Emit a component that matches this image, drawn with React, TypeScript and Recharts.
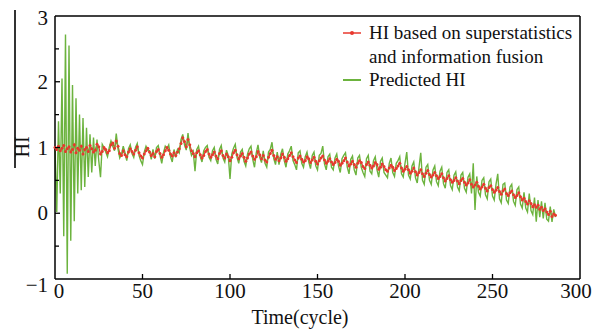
import React from "react";
import {
  LineChart,
  Line,
  XAxis,
  YAxis,
  ReferenceLine,
} from "recharts";

// HI based on superstatistics and information fusion (one value per cycle, 0..286)
const hiFused = [
  1.0, 0.97, 1.02, 0.95, 0.99, 1.03, 0.94, 0.98, 1.01, 0.93,
  0.97, 1.04, 0.92, 0.99, 0.96, 1.02, 0.9, 0.97, 1.0, 0.94,
  1.03, 0.98, 0.93, 0.96, 1.05, 1.01, 0.9, 0.94, 1.0, 0.97,
  0.92, 0.95, 1.04, 1.07, 0.99, 1.1, 1.02, 0.91, 0.88, 0.95,
  0.89, 0.86, 0.93, 0.98, 0.94, 0.9, 0.96, 1.01, 0.92, 0.87,
  0.84, 0.9, 0.95, 0.99, 0.93, 0.88, 0.91, 0.86, 0.94, 0.97,
  0.91, 0.85, 0.89, 0.95, 1.0, 0.96, 0.9, 0.87, 0.92, 0.88,
  0.93, 0.98, 1.06, 1.15, 1.09, 1.01, 1.12, 1.04, 0.95, 0.91,
  0.86, 0.92, 0.95, 0.89, 0.84, 0.88, 0.94, 0.97, 0.9, 0.85,
  0.89, 0.93, 0.87, 0.83, 0.91, 0.95, 0.88, 0.84, 0.9, 0.86,
  0.8, 0.85, 0.92, 0.96, 0.89, 0.83, 0.87, 0.91, 0.85, 0.79,
  0.84, 0.9, 0.93, 0.87, 0.82, 0.86, 0.94, 0.89, 0.83, 0.88,
  0.81, 0.78, 0.85, 0.91, 0.96, 0.88, 0.82, 0.86, 0.8, 0.84,
  0.9, 0.85, 0.79, 0.83, 0.88, 0.92, 0.86, 0.81, 0.77, 0.84,
  0.87, 0.82, 0.78, 0.8, 0.86, 0.83, 0.77, 0.81, 0.85, 0.79,
  0.75, 0.8, 0.84, 0.87, 0.81, 0.76, 0.79, 0.83, 0.78, 0.74,
  0.77, 0.82, 0.79, 0.73, 0.76, 0.8, 0.84, 0.78, 0.72, 0.75,
  0.79, 0.74, 0.7, 0.76, 0.8, 0.77, 0.71, 0.68, 0.74, 0.78,
  0.73, 0.69, 0.72, 0.77, 0.74, 0.67, 0.7, 0.75, 0.71, 0.66,
  0.64, 0.69, 0.73, 0.7, 0.65, 0.68, 0.72, 0.76, 0.69, 0.64,
  0.67, 0.71, 0.66, 0.61, 0.64, 0.69, 0.63, 0.58, 0.62, 0.66,
  0.6, 0.56, 0.61, 0.65, 0.59, 0.55, 0.58, 0.62, 0.57, 0.53,
  0.56, 0.6, 0.54, 0.49, 0.53, 0.57, 0.51, 0.47, 0.5, 0.54,
  0.49, 0.45, 0.5, 0.53, 0.47, 0.43, 0.46, 0.51, 0.44, 0.4,
  0.43, 0.47, 0.41, 0.37, 0.4, 0.44, 0.38, 0.34, 0.39, 0.42,
  0.36, 0.32, 0.35, 0.39, 0.33, 0.29, 0.34, 0.37, 0.3, 0.27,
  0.31, 0.34, 0.28, 0.24, 0.27, 0.31, 0.25, 0.2, 0.23, 0.18,
  0.14, 0.19, 0.15, 0.1, 0.13, 0.09, 0.12, 0.06, 0.09, 0.04,
  0.07, 0.02, -0.02, 0.03, -0.05, -0.01, -0.03,
];

// Predicted HI
const hiPredicted = [
  1.0, 0.02, 1.4, 0.3, 2.05, -0.35, 2.72, -0.92, 2.55, -0.42,
  1.95, -0.12, 1.75, 0.3, 1.5, 0.35, 1.45, 0.4, 1.3, 0.55,
  1.2, 0.62, 1.15, 0.72, 1.12, 0.8, 0.55, 1.05, 1.0, 0.93,
  0.86, 1.0, 1.1, 1.02, 0.95, 1.21, 0.98, 0.84, 0.9, 1.02,
  0.92, 0.8, 0.98, 1.04, 0.91, 0.85, 1.0, 1.06, 0.88, 0.8,
  0.74, 0.93, 1.02, 0.96, 0.95, 0.82, 0.97, 0.83, 1.0, 1.03,
  0.88, 0.76, 0.92, 1.02, 0.98, 1.04, 0.86, 0.78, 0.97, 0.85,
  0.97, 0.92, 1.12, 1.2, 1.04, 0.96, 1.22, 0.99, 0.88, 0.94,
  0.64, 0.97, 1.02, 0.86, 0.78, 0.95, 1.0, 1.03, 0.85, 0.8,
  0.95, 1.0, 0.82, 0.75, 0.97, 1.03, 0.84, 0.78, 0.96, 0.88,
  0.52, 0.9, 0.99, 1.05, 0.85, 0.76, 0.93, 0.97, 0.79, 0.72,
  0.9, 0.98, 1.02, 0.82, 0.7, 0.92, 1.04, 0.85, 0.77, 0.95,
  0.76, 0.7, 0.93, 0.97, 1.08, 0.83, 0.74, 0.93, 0.74, 0.9,
  0.98, 0.8, 0.7, 0.9, 0.95, 1.02, 0.8, 0.74, 0.66, 0.92,
  0.95, 0.76, 0.7, 0.86, 0.93, 0.78, 0.68, 0.88, 0.93, 0.72,
  0.66, 0.88, 0.91, 1.02, 0.75, 0.66, 0.86, 0.9, 0.7, 0.66,
  0.84, 0.9, 0.72, 0.62, 0.83, 0.88, 0.92, 0.7, 0.6, 0.82,
  0.87, 0.66, 0.58, 0.84, 0.88, 0.7, 0.62, 0.56, 0.83, 0.88,
  0.64, 0.6, 0.8, 0.86, 0.66, 0.55, 0.79, 0.84, 0.62, 0.58,
  0.54, 0.76, 0.84, 0.62, 0.56, 0.76, 0.8, 0.86, 0.6, 0.55,
  0.76, 0.93, 0.58, 0.52, 0.72, 0.78, 0.54, 0.46, 0.7, 0.92,
  0.5, 0.44, 0.7, 0.74, 0.5, 0.44, 0.66, 0.72, 0.48, 0.42,
  0.64, 0.7, 0.45, 0.38, 0.62, 0.66, 0.42, 0.36, 0.58, 0.63,
  0.4, 0.34, 0.58, 0.62, 0.38, 0.32, 0.55, 0.6, 0.3, 0.76,
  0.05, 0.56, 0.32, 0.26, 0.5, 0.54, 0.28, 0.22, 0.48, 0.52,
  0.26, 0.2, 0.44, 0.6, 0.22, 0.16, 0.44, 0.46, 0.2, 0.15,
  0.4, 0.44, 0.18, 0.12, 0.36, 0.4, 0.14, 0.08, 0.32, 0.08,
  0.02, 0.3, 0.04, -0.02, 0.24, -0.13, 0.2, -0.06, 0.18, -0.08,
  0.16, -0.09, -0.12, 0.1, -0.13, 0.06, -0.06,
];

const cycles = hiFused.map((_, i) => i);
const xTicks = [0, 50, 100, 150, 200, 250, 300];
const yTicks = [-1, -0.5, 0, 0.5, 1, 1.5, 2, 2.5, 3];

const data = cycles.map((c, i) => ({
  cycle: c,
  fused: hiFused[i],
  predicted: hiPredicted[i],
}));

const FONT = '"Liberation Serif", "Times New Roman", serif';
const RED = "#e8382e";
const GREEN = "#6cb33e";
const PLOT_LEFT = 55;
const PLOT_BOTTOM = 279;

const XTick = (props: any) => {
  const { x, payload } = props;
  const v = payload.value;
  const shift = v === 0 ? 4 : v === 300 ? -4 : 0;
  return (
    <g>
      {v !== 300 && v !== 0 && (
        <line x1={x} x2={x} y1={PLOT_BOTTOM} y2={PLOT_BOTTOM - 5} stroke="#000" strokeWidth={1.3} />
      )}
      <text x={x + shift} y={298} textAnchor="middle" fontFamily={FONT} fontSize={21} fill="#111">
        {v}
      </text>
    </g>
  );
};

const YTick = (props: any) => {
  const { y, payload } = props;
  const v = payload.value;
  const major = Number.isInteger(v);
  return (
    <g>
      {v !== 3 && v !== -1 && (
        <line x1={PLOT_LEFT} x2={PLOT_LEFT + (major ? 5 : 4)} y1={y} y2={y} stroke="#000" strokeWidth={1.3} />
      )}
      {major && (
        <text
          x={48}
          y={y + (v === -1 ? 13 : v === 3 ? 9 : 7)}
          textAnchor="end"
          fontFamily={FONT}
          fontSize={21}
          fill="#111"
        >
          {v < 0 ? "\u2212" + Math.abs(v) : v}
        </text>
      )}
    </g>
  );
};

export default function App() {
  return (
    <div style={{ position: "absolute", left: 0, top: 0, width: 594, height: 329, background: "#fff" }}>
      <LineChart
        width={594}
        height={329}
        data={data}
        margin={{ top: 16, right: 14, bottom: 20, left: 0 }}
      >
        <XAxis
          dataKey="cycle"
          type="number"
          domain={[0, 300]}
          ticks={xTicks}
          tick={<XTick />}
          tickLine={false}
          axisLine={{ stroke: "#000", strokeWidth: 1.5 }}
          height={30}
          interval={0}
        />
        <YAxis
          type="number"
          domain={[-1, 3]}
          ticks={yTicks}
          tick={<YTick />}
          tickLine={false}
          axisLine={{ stroke: "#000", strokeWidth: 1.5 }}
          width={55}
          interval={0}
        />
        <ReferenceLine y={3} stroke="#000" strokeWidth={1.5} ifOverflow="extendDomain" />
        <ReferenceLine x={300} stroke="#000" strokeWidth={1.5} ifOverflow="extendDomain" />
        <Line
          type="linear"
          dataKey="fused"
          stroke={RED}
          strokeWidth={1.3}
          dot={{ r: 1.5, fill: RED, stroke: "none" }}
          isAnimationActive={false}
        />
        <Line
          type="linear"
          dataKey="predicted"
          stroke={GREEN}
          strokeWidth={1.4}
          dot={false}
          isAnimationActive={false}
        />
      </LineChart>

      {/* y axis title with the stray rule beside it */}
      <div style={{ position: "absolute", left: 14, top: 10, width: 1.5, height: 158, background: "#333" }} />
      <div
        style={{
          position: "absolute",
          left: 22,
          top: 147,
          transform: "translate(-50%, -50%) rotate(-90deg)",
          fontFamily: FONT,
          fontSize: 20,
          color: "#111",
          whiteSpace: "nowrap",
        }}
      >
        HI
      </div>
      <div
        style={{
          position: "absolute",
          left: 300,
          top: 317,
          transform: "translate(-50%, -50%)",
          fontFamily: FONT,
          fontSize: 20,
          color: "#111",
          whiteSpace: "nowrap",
        }}
      >
        Time(cycle)
      </div>

      {/* legend */}
      <div style={{ position: "absolute", left: 342, top: 21, fontFamily: FONT, fontSize: 19, color: "#111", lineHeight: "23.5px" }}>
        <div style={{ display: "flex", alignItems: "center" }}>
          <svg width={24} height={10} style={{ marginRight: 3 }}>
            <line x1={1} x2={19} y1={5} y2={5} stroke={RED} strokeWidth={1.5} />
            <circle cx={10} cy={5} r={2} fill={RED} />
          </svg>
          <span>HI based on superstatistics</span>
        </div>
        <div style={{ paddingLeft: 27 }}>and information fusion</div>
        <div style={{ display: "flex", alignItems: "center" }}>
          <svg width={24} height={10} style={{ marginRight: 3 }}>
            <line x1={1} x2={19} y1={5} y2={5} stroke={GREEN} strokeWidth={2} />
          </svg>
          <span>Predicted HI</span>
        </div>
      </div>
    </div>
  );
}
